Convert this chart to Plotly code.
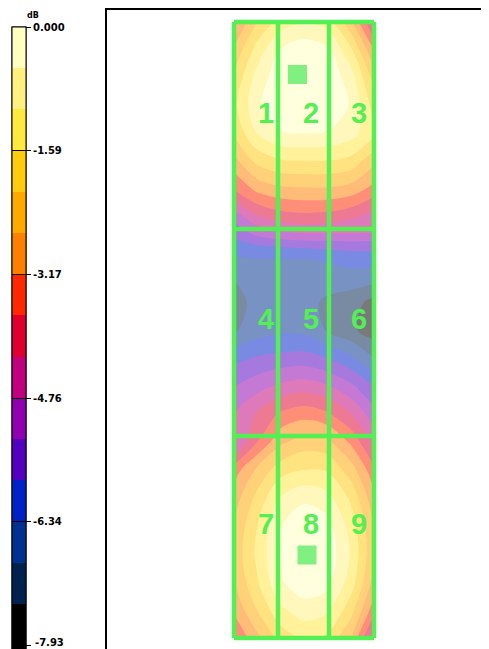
import plotly.graph_objects as go

# ---------------- colour bar (dB) ----------------
LEVEL_MIN = -7.93
LEVEL_MAX = 0.0
N_BANDS = 15
TICK_VALS = [0.0, -1.59, -3.17, -4.76, -6.34, -7.93]
TICK_TEXT = ["0.000", "-1.59", "-3.17", "-4.76", "-6.34", "-7.93"]
# band colours from lowest level (-7.93 dB) to highest (0 dB)
BAND_COLORS = ["#000000", "#00224E", "#003090", "#0020C8", "#5400C0",
               "#9000B0", "#C0007C", "#E00030", "#FF2800", "#FF8000",
               "#FFA800", "#FFCA10", "#FFE840", "#FFF080", "#FFFFC0"]

# ---------------- measurement grid (metres) ----------------
grid_x = [0.0, 0.46, 0.94, 1.40, 1.86, 2.34, 2.80]
grid_y = [0.0, 0.56, 1.12, 1.68, 2.24, 2.80, 3.36, 3.92, 4.20, 4.48, 4.76,
          5.04, 5.60, 6.16, 6.72, 7.28, 7.84, 8.40, 8.96, 9.52, 10.08,
          10.64, 11.20, 11.76, 12.32]
# level in dB, one row per grid_y
level_db = [
    [-3.33, -2.11, -1.32, -1.11, -1.27, -2.54, -4.39],
    [-2.54, -1.37, -0.48, -0.16, -0.42, -1.48, -3.18],
    [-2.01, -0.85, -0.16, 0.00, -0.11, -0.79, -2.33],
    [-1.74, -0.63, -0.11, 0.00, -0.11, -0.58, -1.80],
    [-2.06, -1.07, -0.58, -0.54, -0.58, -0.85, -1.48],
    [-2.85, -2.01, -1.69, -1.64, -1.64, -1.80, -2.54],
    [-3.71, -3.07, -2.80, -2.75, -2.75, -2.91, -3.38],
    [-5.18, -4.34, -4.02, -3.91, -3.97, -4.18, -4.60],
    [-5.60, -5.08, -4.78, -4.65, -4.65, -4.65, -4.71],
    [-6.08, -5.87, -5.76, -5.71, -5.66, -5.60, -5.60],
    [-6.45, -6.40, -6.40, -6.40, -6.29, -6.19, -6.13],
    [-6.82, -6.56, -6.50, -6.50, -6.50, -6.45, -6.50],
    [-7.08, -6.71, -6.56, -6.66, -6.98, -7.19, -7.56],
    [-6.93, -6.61, -6.45, -6.50, -6.93, -7.30, -7.67],
    [-5.97, -5.76, -5.66, -5.60, -5.82, -6.24, -6.88],
    [-5.30, -4.97, -4.65, -4.49, -4.71, -5.18, -5.82],
    [-4.77, -4.18, -3.60, -3.38, -3.60, -4.23, -5.08],
    [-4.86, -3.71, -2.75, -2.38, -2.49, -3.28, -4.39],
    [-3.44, -2.54, -1.80, -1.59, -1.64, -2.38, -3.54],
    [-2.91, -1.96, -1.00, -0.63, -0.85, -1.69, -3.01],
    [-2.59, -1.60, -0.54, -0.16, -0.32, -1.27, -2.65],
    [-2.48, -1.48, -0.42, 0.00, -0.16, -1.11, -2.59],
    [-2.65, -1.64, -0.58, -0.16, -0.32, -1.32, -2.85],
    [-3.07, -2.11, -1.16, -0.79, -0.95, -1.90, -3.49],
    [-3.71, -2.80, -1.90, -1.48, -1.69, -2.65, -4.65],
]

# zones (metres)
zone_x = [0.0, 0.88, 1.90, 2.80]
zone_y = [0.0, 4.14, 8.28, 12.32]
zone_names = ["1", "2", "3", "4", "5", "6", "7", "8", "9"]
# sources (metres)
source_x = [1.27, 1.46]
source_y = [1.05, 10.66]

# ---------------- layout constants ----------------
LABEL_COL_X = [0.64, 1.54, 2.50]
LABEL_ROW_Y = [1.87, 6.0, 10.10]
GREEN = "#52F052"
BAR_MIN = -8.03          # colour bar runs a little past the last level
TICK_FONT = dict(family="DejaVu Sans", size=10, color="black", weight="bold")

# stepped colourscale for the map (robust for contour fill evaluation)
nlev = N_BANDS + 1
map_scale = [[0.0, BAND_COLORS[0]]]
for k in range(N_BANDS - 1):
    b = (k + 1.25) / nlev
    map_scale.append([b, BAND_COLORS[k]])
    map_scale.append([b, BAND_COLORS[k + 1]])
map_scale.append([1.0, BAND_COLORS[-1]])

step = (LEVEL_MAX - LEVEL_MIN) / N_BANDS

# stepped colourscale for the colour bar over [BAR_MIN, LEVEL_MAX]
span = LEVEL_MAX - BAR_MIN
bar_scale = [[0.0, BAND_COLORS[0]]]
for k in range(N_BANDS - 1):
    b = (LEVEL_MIN + (k + 1) * step - BAR_MIN) / span
    bar_scale.append([b, BAND_COLORS[k]])
    bar_scale.append([b, BAND_COLORS[k + 1]])
bar_scale.append([1.0, BAND_COLORS[-1]])

fig = go.Figure()
fig.add_trace(go.Contour(
    x=grid_x, y=grid_y, z=level_db,
    colorscale=map_scale,
    contours=dict(start=LEVEL_MIN, end=LEVEL_MAX, size=step,
                  coloring="fill", showlines=False),
    line=dict(width=0, smoothing=1.0),
    opacity=0.52,
    showscale=False,
    hoverinfo="skip",
))

# the last label sits at the bottom edge; it is written separately so it stays whole
bar_ticktext = TICK_TEXT[:-1] + [""]

bar_len = 618 * span / (LEVEL_MAX - LEVEL_MIN)
cb_common = dict(
    x=(12 - 107) / 382, xanchor="left", xpad=0,
    y=(649 - 27) / 639, yanchor="top", ypad=0,
    lenmode="pixels", len=bar_len,
    thicknessmode="pixels", thickness=14,
    outlinewidth=1, outlinecolor="black",
    tickmode="array", tickvals=TICK_VALS, ticktext=bar_ticktext,
    tickcolor="black", tickwidth=1,
    tickfont=TICK_FONT,
)
# colour bar with outside ticks and labels
fig.add_trace(go.Scatter(
    x=[None], y=[None], mode="markers", hoverinfo="skip", showlegend=False,
    marker=dict(color=[LEVEL_MIN], cmin=BAR_MIN, cmax=LEVEL_MAX,
                colorscale=bar_scale, showscale=True,
                colorbar=dict(cb_common, ticks="outside", ticklen=5)),
))
# same colour bar on top, only to draw the tick lines across the bar
fig.add_trace(go.Scatter(
    x=[None], y=[None], mode="markers", hoverinfo="skip", showlegend=False,
    marker=dict(color=[LEVEL_MIN], cmin=BAR_MIN, cmax=LEVEL_MAX,
                colorscale=bar_scale, showscale=True,
                colorbar=dict(cb_common, ticks="inside", ticklen=14,
                              showticklabels=False)),
))

fig.add_annotation(text=TICK_TEXT[-1], xref="paper", yref="paper",
                   x=(34 - 107) / 382, y=0.0, xanchor="left", yanchor="bottom",
                   showarrow=False, borderpad=0, font=TICK_FONT)

# zone grid lines
lx, ly = [], []
for xv in zone_x:
    lx += [xv, xv, None]
    ly += [zone_y[0], zone_y[-1], None]
for yv in zone_y:
    lx += [zone_x[0], zone_x[-1], None]
    ly += [yv, yv, None]
fig.add_trace(go.Scatter(x=lx, y=ly, mode="lines",
                         line=dict(color=GREEN, width=4.5),
                         hoverinfo="skip", showlegend=False))

# sources
fig.add_trace(go.Scatter(x=source_x, y=source_y, mode="markers",
                         marker=dict(symbol="square", size=19, color="#80F080"),
                         hoverinfo="skip", showlegend=False))

# zone labels
tx, ty = [], []
for r in range(3):
    for c in range(3):
        tx.append(LABEL_COL_X[c])
        ty.append(LABEL_ROW_Y[r])
fig.add_trace(go.Scatter(x=tx, y=ty, mode="text", text=zone_names,
                         textposition="middle center",
                         textfont=dict(family="Liberation Sans", size=29,
                                       color=GREEN, weight="bold"),
                         hoverinfo="skip", showlegend=False))

fig.add_annotation(text="dB", xref="paper", yref="paper",
                   x=(33 - 107) / 382, y=(649 - 15) / 639,
                   xanchor="center", yanchor="middle", showarrow=False,
                   font=dict(family="DejaVu Sans", size=8, color="black",
                             weight="bold"))

# the page body adds an 8 px margin, so the figure is 8 px smaller
fig.update_layout(
    width=481, height=641,
    margin=dict(l=99, r=0, t=2, b=0),
    paper_bgcolor="white", plot_bgcolor="white",
    showlegend=False,
    xaxis=dict(range=[-2.54, 5.10], side="top", showline=True, linecolor="black",
               linewidth=2, showgrid=False, zeroline=False, showticklabels=False,
               ticks=""),
    yaxis=dict(range=[12.54, -0.24], showline=True, linecolor="black",
               linewidth=2, showgrid=False, zeroline=False, showticklabels=False,
               ticks=""),
)

fig.write_html("out.html")
